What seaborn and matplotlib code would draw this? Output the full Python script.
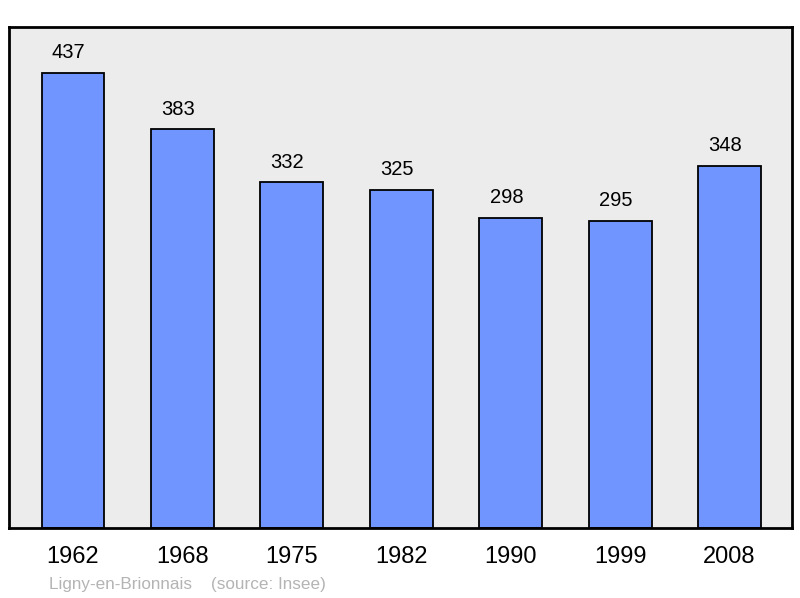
import matplotlib
matplotlib.use("Agg")
import matplotlib.pyplot as plt
import seaborn as sns
import pandas as pd

# population par recensement
years = ["1962", "1968", "1975", "1982", "1990", "1999", "2008"]
population = [437, 383, 332, 325, 298, 295, 348]
commune = "Ligny-en-Brionnais"
source = "(source: Insee)"

df = pd.DataFrame({"annee": years, "pop": population})

sns.set_style("white")
plt.rcParams['font.family'] = ['Liberation Sans', 'DejaVu Sans']
plt.rcParams['text.color'] = 'black'
plt.rcParams['xtick.color'] = 'black'

fig = plt.figure(figsize=(8, 5.98), dpi=100)
ax = fig.add_axes([0.01125, 0.117, 0.97875, 0.8378])
ax.set_facecolor("#ececec")

sns.barplot(data=df, x="annee", y="pop", color="#7095ff", saturation=1,
            width=0.575, edgecolor="black", linewidth=1.3, ax=ax)

for i, v in enumerate(population):
    ax.text(i - 0.04, v + 10, str(v), ha="center", va="bottom", fontsize=14.5, color="black")

ax.set_xlim(-0.585, 6.57)
ax.set_ylim(0, 481)
ax.set_yticks([])
ax.set_xlabel("")
ax.set_ylabel("")
ax.tick_params(axis="x", length=0, labelsize=17, pad=13, labelcolor="black")
for s in ax.spines.values():
    s.set_visible(True)
    s.set_color("black")
    s.set_linewidth(2)

fig.text(49 / 800, 1 - 584 / 598, commune + "    " + source, color="#b4b4b4",
         fontsize=12.3, ha="left", va="center")

fig.savefig("out.png", dpi=100)
